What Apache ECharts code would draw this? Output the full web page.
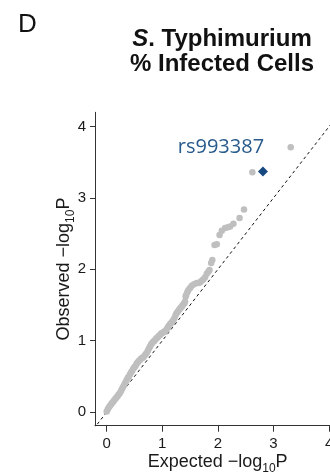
<!DOCTYPE html>
<html>
<head>
<meta charset="utf-8">
<script src="https://cdn.jsdelivr.net/npm/echarts@6/dist/echarts.min.js"></script>
<style>
html,body{margin:0;padding:0;background:#fff;}
#chart{width:330px;height:473px;}
</style>
</head>
<body>
<div id="chart"></div>
<script>
// ---- data ----
var panelLetter = 'D';
var titleLine1Italic = 'S';
var titleLine1Rest = '. Typhimurium';
var titleLine2 = '% Infected Cells';
var xTicks = [0, 1, 2, 3, 4];
var yTicks = [0, 1, 2, 3, 4];
var expectedP = [0.00,0.02,0.04,0.06,0.08,0.10,0.12,0.14,0.16,0.18,0.20,0.22,0.24,0.26,0.28,0.30,0.32,0.34,0.36,0.38,0.40,0.42,0.44,0.46,0.48,0.50,0.52,0.54,0.56,0.58,0.60,0.62,0.64,0.66,0.68,0.70,0.72,0.74,0.76,0.78,0.80,0.82,0.84,0.86,0.88,0.90,0.92,0.94,0.96,0.98,1.00,1.02,1.04,1.06,1.08,1.10,1.12,1.14,1.16,1.18,1.20,1.22,1.24,1.26,1.28,1.30,1.32,1.34,1.36,1.38,1.40,1.41,
  1.42,1.43,1.45,1.47,1.50,1.53,1.57,1.62,1.65,1.68,1.71,1.74,1.77,1.80,1.83,1.85,1.88,1.90,1.94,1.98,2.03,2.07,2.13,2.18,2.22,2.28,2.39,2.47,2.62,3.31];
var observedP = [0.01,0.04,0.07,0.09,0.11,0.13,0.15,0.17,0.19,0.21,0.23,0.25,0.27,0.30,0.33,0.36,0.39,0.42,0.45,0.48,0.50,0.53,0.56,0.58,0.61,0.63,0.65,0.68,0.70,0.72,0.73,0.75,0.76,0.77,0.79,0.81,0.83,0.86,0.89,0.92,0.95,0.97,0.99,1.00,1.02,1.04,1.05,1.07,1.08,1.10,1.11,1.12,1.13,1.14,1.16,1.19,1.21,1.23,1.25,1.27,1.29,1.32,1.36,1.39,1.41,1.43,1.45,1.47,1.49,1.51,1.53,1.55,
  1.62,1.64,1.68,1.71,1.74,1.77,1.79,1.81,1.81,1.82,1.84,1.86,1.89,1.94,1.97,1.99,2.09,2.13,2.34,2.35,2.48,2.54,2.58,2.59,2.60,2.64,2.72,2.84,3.36,3.71];
var snpName = 'rs993387';
var snpExpected = 2.81;
var snpObserved = 3.37;
var diagLine = [-0.5, 4.5];

// ---- build ----
var grayPts = expectedP.map(function (e, i) { return [e, observedP[i]]; });
var font = '"Liberation Sans", Arial, Helvetica, sans-serif';
var nameRich = {
  a: {fontFamily: font, fontSize: 18, color: '#1a1a1a', lineHeight: 22, verticalAlign: 'bottom'},
  s: {fontFamily: font, fontSize: 12, color: '#1a1a1a', lineHeight: 14, verticalAlign: 'bottom', padding: [0, 0, -4, 0]}
};
var chart = echarts.init(document.getElementById('chart'), null, {renderer: 'canvas'});
chart.setOption({
  animation: false,
  backgroundColor: '#ffffff',
  title: [
    {
      text: panelLetter,
      left: 13, top: 7,
      textStyle: {fontFamily: font, fontSize: 26, fontWeight: 'normal', color: '#111'}
    },
    {
      text: '{i|' + titleLine1Italic + '}{b|' + titleLine1Rest + '}\n{b|' + titleLine2 + '}',
      left: 217, top: 22, textAlign: 'center',
      textStyle: {
        fontFamily: font,
        rich: {
          i: {fontFamily: font, fontSize: 24, fontWeight: 'bold', fontStyle: 'italic', color: '#111', lineHeight: 25},
          b: {fontFamily: font, fontSize: 24, fontWeight: 'bold', color: '#111', lineHeight: 25}
        }
      }
    }
  ],
  grid: {left: 95, right: -10.2, top: 112.3, bottom: 47.3, containLabel: false, outerBoundsMode: 'none'},
  xAxis: {
    type: 'value', min: -0.21, max: 4.2,
    splitLine: {show: false},
    axisLine: {show: true, onZero: false, lineStyle: {color: '#333', width: 1}},
    axisTick: {show: true, length: 6, customValues: xTicks, lineStyle: {color: '#333'}},
    axisLabel: {customValues: xTicks, margin: 11, fontFamily: font, fontSize: 15, color: '#1a1a1a'},
    name: '{a|Expected \u2212log}{s|10}{a|P}',
    nameLocation: 'middle', nameGap: 23, nameMoveOverlap: false,
    nameTextStyle: {rich: nameRich}
  },
  yAxis: {
    type: 'value', min: -0.19, max: 4.2,
    splitLine: {show: false},
    axisLine: {show: true, onZero: false, lineStyle: {color: '#333', width: 1}},
    axisTick: {show: true, length: 5, customValues: yTicks, lineStyle: {color: '#333'}},
    axisLabel: {customValues: yTicks, margin: 9, fontFamily: font, fontSize: 15, color: '#1a1a1a'},
    name: '{a|Observed \u2212log}{s|10}{a|P}',
    nameLocation: 'middle', nameGap: 22, nameRotate: 90, nameMoveOverlap: false,
    nameTextStyle: {rich: nameRich}
  },
  series: [
    {
      type: 'line',
      data: [[diagLine[0], diagLine[0]], [diagLine[1], diagLine[1]]],
      symbol: 'none', clip: true, silent: true,
      lineStyle: {color: '#111', width: 1, type: [3, 3]},
      z: 1
    },
    {
      type: 'scatter',
      data: grayPts,
      symbol: 'circle', symbolSize: 6.5,
      itemStyle: {color: '#bfbfbf', opacity: 1},
      z: 2
    },
    {
      type: 'scatter',
      data: [[snpExpected, snpObserved]],
      symbol: 'diamond', symbolSize: [10, 10],
      itemStyle: {color: '#17487f', opacity: 1},
      label: {
        show: true, formatter: snpName, position: 'inside', offset: [-42, -24],
        fontFamily: '"Open Sans", sans-serif', fontSize: 20, color: '#285a8c'
      },
      z: 3
    }
  ]
});
</script>
</body>
</html>
